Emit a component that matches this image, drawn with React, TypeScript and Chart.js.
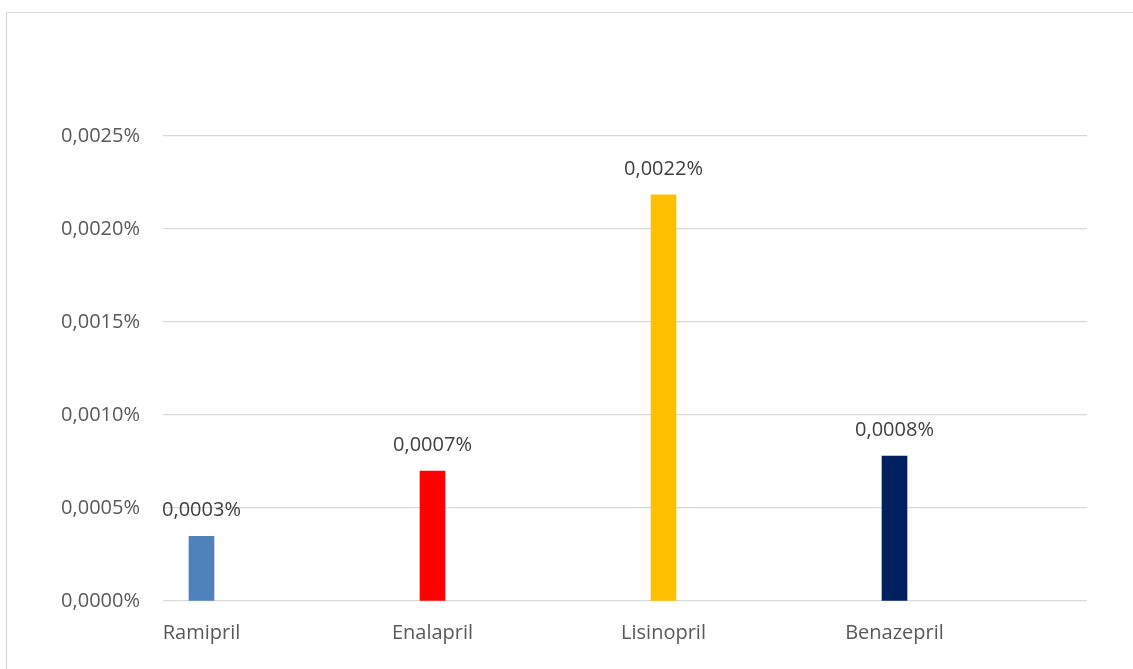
import React, { useEffect, useRef } from "react";
import { Chart, registerables } from "chart.js";

Chart.register(...registerables);

const categories = ["Ramipril", "Enalapril", "Lisinopril", "Benazepril"];
const values = [0.000348, 0.000698, 0.002184, 0.000779];
const barColors = ["#4f81bd", "#ff0000", "#ffc000", "#002060"];
const yTicks = [0, 0.0005, 0.001, 0.0015, 0.002, 0.0025];

const FONT = "'Open Sans', sans-serif";
const TEXT = "#595959";
const GRID = "#d9d9d9";

const fmt = (v: number) => v.toFixed(4).replace(".", ",") + "%";

const dataLabels = {
  id: "dataLabels",
  afterDatasetsDraw(chart: any) {
    const ctx = chart.ctx;
    const meta = chart.getDatasetMeta(0);
    ctx.save();
    ctx.font = `20px ${FONT}`;
    ctx.fillStyle = "#404040";
    ctx.textAlign = "center";
    ctx.textBaseline = "alphabetic";
    meta.data.forEach((bar: any, i: number) => {
      ctx.fillText(fmt(values[i]), bar.x, bar.y - 20);
    });
    ctx.restore();
  },
};

export default function App() {
  const ref = useRef<HTMLCanvasElement>(null);
  useEffect(() => {
    if (!ref.current) return;
    const chart = new Chart(ref.current, {
      type: "bar",
      data: {
        datasets: [
          {
            data: values.map((v, i) => ({ x: i, y: v })),
            backgroundColor: barColors,
            barThickness: 25,
          } as any,
        ],
      },
      options: {
        animation: false,
        responsive: false,
        maintainAspectRatio: false,
        layout: { padding: { left: 0, top: 136, right: 46, bottom: 0 } },
        plugins: { legend: { display: false }, tooltip: { enabled: false } },
        scales: {
          x: {
            type: "linear",
            min: -1 / 6,
            max: 4 - 1 / 6,
            offset: false,
            grid: { display: false, drawTicks: false },
            border: { display: false },
            afterBuildTicks: (s: any) => {
              s.ticks = categories.map((_, i) => ({ value: i }));
            },
            afterFit: (s: any) => {
              s.height = 68;
            },
            ticks: {
              padding: 20,
              color: TEXT,
              font: { family: FONT, size: 20 },
              maxRotation: 0,
              autoSkip: false,
              callback: (v: any) => categories[v] ?? "",
            },
          },
          y: {
            min: 0,
            max: 0.0025,
            afterBuildTicks: (s: any) => {
              s.ticks = yTicks.map((v) => ({ value: v }));
            },
            afterFit: (s: any) => {
              s.width = 163;
            },
            grid: { color: GRID, lineWidth: 1.3, drawTicks: false },
            border: { display: false },
            ticks: {
              padding: 23,
              color: TEXT,
              font: { family: FONT, size: 20 },
              callback: (v: any) => fmt(Number(v)),
            },
          },
        },
      },
      plugins: [dataLabels],
    });
    return () => chart.destroy();
  }, []);

  return (
    <div
      style={{
        position: "fixed",
        left: 0,
        top: 0,
        width: 1133,
        height: 669,
        background: "#fff",
        overflow: "hidden",
      }}
    >
      <div
        style={{
          position: "absolute",
          left: 6,
          top: 12,
          width: 1150,
          height: 700,
          border: "1px solid #d6d6d6",
          boxSizing: "border-box",
        }}
      />
      <canvas
        ref={ref}
        width={1133}
        height={669}
        style={{ position: "absolute", left: 0, top: 0, width: 1133, height: 669 }}
      />
    </div>
  );
}
